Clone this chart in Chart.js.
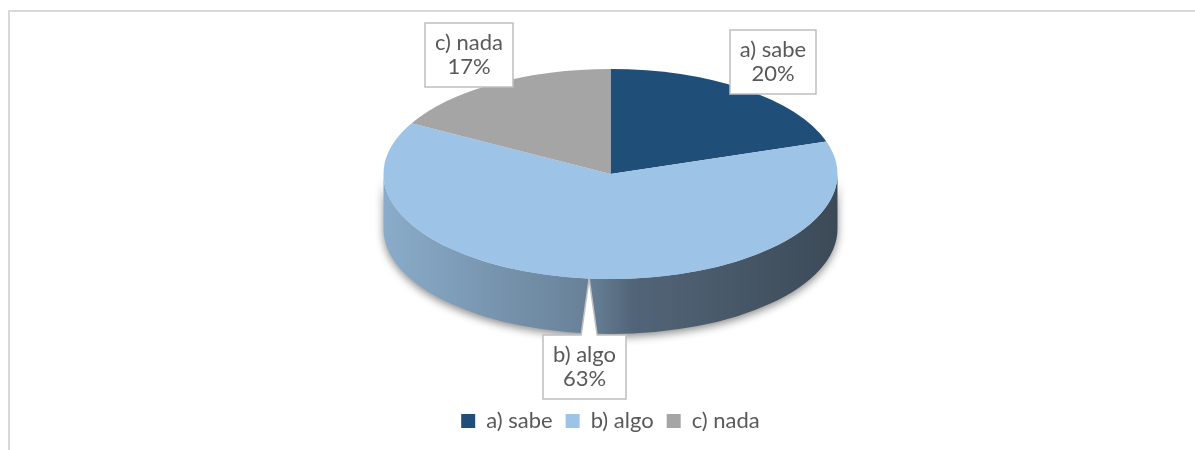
<!DOCTYPE html>
<html>
<head>
<meta charset="utf-8">
<title>Pie 3D</title>
<script src="https://cdn.jsdelivr.net/npm/chart.js@4.4.1/dist/chart.umd.min.js"></script>
<style>
  html, body { margin: 0; padding: 0; background: #fff; overflow: hidden; }
  #frame { position: absolute; left: 8px; top: 10px; width: 1205px; height: 440px;
           border-top: 2px solid #D9D9D9; border-left: 2px solid #D9D9D9; }
  #wrap { position: relative; width: 1205px; height: 438px; }
</style>
</head>
<body>
<div id="frame"><div id="wrap"><canvas id="pieChart"></canvas></div></div>
<script>
// Chart data
const categories = ['a) sabe', 'b) algo', 'c) nada'];
const percentages = [20, 63, 17];
const sliceColors = ['#1F4E79', '#9DC3E6', '#A5A5A5'];

const textColor = '#595959';
const fontFamily = "Lato, 'Open Sans', sans-serif";
const fontSize = 22;

// Darken a hex colour by factor f
function shade(hex, f) {
    const n = parseInt(hex.slice(1), 16);
    const r = Math.round(((n >> 16) & 255) * f);
    const g = Math.round(((n >> 8) & 255) * f);
    const b = Math.round((n & 255) * f);
    return `rgb(${r}, ${g}, ${b})`;
}

function clamp(v, lo, hi) {
    return Math.max(lo, Math.min(hi, v));
}

// Ellipse geometry derived from the arcs Chart.js laid out
function geometry(chart, opts) {
    const arc = chart.getDatasetMeta(0).data[0];
    const rx = arc.outerRadius;
    const k = opts.tilt;
    return {
        cx: arc.x,
        ay: arc.y,
        cy: arc.y - opts.depth / 2 + opts.lift,
        rx: rx,
        ry: rx * k,
        k: k,
        depth: opts.depth
    };
}

// Callout box with a small pointer towards the slice
function drawCallout(ctx, lines, bx, by, tip) {
    ctx.save();
    ctx.font = `${fontSize}px ${fontFamily}`;
    const lineH = 24;
    const w = Math.max(...lines.map(t => ctx.measureText(t).width)) + 20;
    const h = lines.length * lineH + 16;
    const l = Math.round(bx - w / 2), t = Math.round(by - h / 2);
    const r = l + Math.round(w), b = t + h;
    const pts = [[l, t]];
    if (tip.y < t) {
        const c = clamp(tip.x, l + 12, r - 12);
        pts.push([c - 8, t], [tip.x, tip.y], [c + 8, t]);
    }
    pts.push([r, t]);
    if (tip.y >= t && tip.y <= b && tip.x > r) {
        const c = clamp(tip.y, t + 10, b - 10);
        pts.push([r, c - 7], [tip.x, tip.y], [r, c + 7]);
    }
    pts.push([r, b]);
    if (tip.y > b) {
        const c = clamp(tip.x, l + 12, r - 12);
        pts.push([c + 8, b], [tip.x, tip.y], [c - 8, b]);
    }
    pts.push([l, b]);
    if (tip.y >= t && tip.y <= b && tip.x < l) {
        const c = clamp(tip.y, t + 10, b - 10);
        pts.push([l, c + 7], [tip.x, tip.y], [l, c - 7]);
    }
    ctx.beginPath();
    pts.forEach((p, i) => i ? ctx.lineTo(p[0], p[1]) : ctx.moveTo(p[0], p[1]));
    ctx.closePath();
    ctx.fillStyle = '#FFFFFF';
    ctx.fill();
    ctx.strokeStyle = '#BFBFBF';
    ctx.lineWidth = 1.5;
    ctx.stroke();

    ctx.fillStyle = textColor;
    ctx.textAlign = 'center';
    ctx.textBaseline = 'middle';
    lines.forEach((txt, j) => {
        ctx.fillText(txt, (l + r) / 2, t + 8 + lineH * (j + 0.5));
    });
    ctx.restore();
}

// Plugin that gives the pie a tilted, 3D look
const pie3d = {
    id: 'pie3d',
    beforeDatasetsDraw(chart, args, opts) {
        const ctx = chart.ctx;
        const arcs = chart.getDatasetMeta(0).data;
        const g = geometry(chart, opts);

        // Side walls (only the front half shows)
        ctx.save();
        arcs.forEach((arc, i) => {
            const a0 = Math.max(arc.startAngle, 0);
            const a1 = Math.min(arc.endAngle, Math.PI);
            if (a0 >= a1) return;
            const base = sliceColors[i];
            const grad = ctx.createLinearGradient(g.cx - g.rx, 0, g.cx + g.rx, 0);
            grad.addColorStop(0, shade(base, 0.88));
            grad.addColorStop(0.45, shade(base, 0.66));
            grad.addColorStop(0.55, shade(base, 0.52));
            grad.addColorStop(1, shade(base, 0.38));
            ctx.beginPath();
            ctx.ellipse(g.cx, g.cy, g.rx, g.ry, 0, a0, a1);
            ctx.ellipse(g.cx, g.cy + g.depth, g.rx, g.ry, 0, a1, a0, true);
            ctx.closePath();
            ctx.shadowColor = 'rgba(0, 0, 0, 0.45)';
            ctx.shadowBlur = 8;
            ctx.shadowOffsetY = 3;
            ctx.fillStyle = grad;
            ctx.fill();
        });
        ctx.restore();

        // Squash the top face into an ellipse
        ctx.save();
        ctx.translate(0, g.cy - g.ay * g.k);
        ctx.scale(1, g.k);
    },
    afterDatasetsDraw(chart, args, opts) {
        const ctx = chart.ctx;
        ctx.restore();

        const arcs = chart.getDatasetMeta(0).data;
        const g = geometry(chart, opts);
        const total = percentages.reduce((s, v) => s + v, 0);
        arcs.forEach((arc, i) => {
            const mid = (arc.startAngle + arc.endAngle) / 2;
            const cos = Math.cos(mid), sin = Math.sin(mid);
            const tip = { x: g.cx + g.rx * cos, y: g.cy + g.ry * sin };
            const bx = g.cx + g.rx * cos * opts.labelFx;
            const by = g.cy + g.ry * sin * opts.labelFy + (sin > 0 ? g.depth : 0);
            const lines = [categories[i], Math.round(percentages[i] / total * 100) + '%'];
            drawCallout(ctx, lines, bx, by, tip);
        });
    }
};

const ctx = document.getElementById('pieChart').getContext('2d');
const chart = new Chart(ctx, {
    type: 'pie',
    data: {
        labels: categories,
        datasets: [{
            data: percentages,
            backgroundColor: sliceColors,
            borderWidth: 0,
            radius: 227,
            clip: false
        }]
    },
    options: {
        responsive: true,
        maintainAspectRatio: false,
        animation: false,
        events: [],
        layout: {
            padding: { left: 0, right: 4, top: 0, bottom: 8 }
        },
        plugins: {
            pie3d: { tilt: 0.463, depth: 55, lift: -3, labelFx: 1.22, labelFy: 1.32 },
            tooltip: { enabled: false },
            legend: {
                position: 'bottom',
                labels: {
                    color: textColor,
                    font: { family: fontFamily, size: fontSize },
                    boxWidth: 14,
                    boxHeight: 14,
                    padding: 13
                }
            }
        }
    },
    plugins: [pie3d]
});
</script>
</body>
</html>
